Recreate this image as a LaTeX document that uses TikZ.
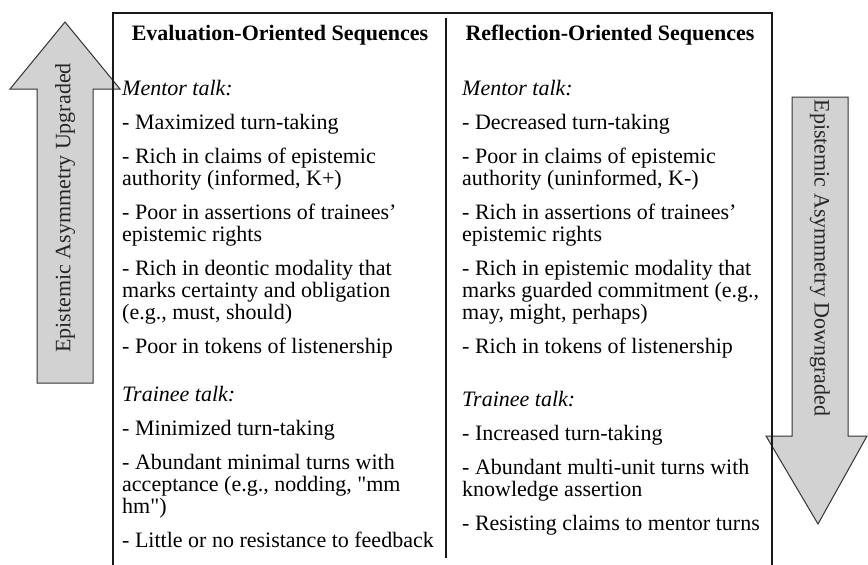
\documentclass[tikz,border=0pt]{standalone}
\usepackage{fontspec}
\setmainfont{Liberation Serif}
\newcommand\straightq{\XeTeXglyph\XeTeXcharglyph"22\relax}
\begin{document}
\begin{tikzpicture}[x=1pt,y=-1pt,
  txt/.style={anchor=base west,inner sep=0pt,font=\fontsize{22}{24}\selectfont},
  ital/.style={txt,font=\fontsize{22}{24}\selectfont\itshape},
  hd/.style={anchor=base,inner sep=0pt,font=\fontsize{22}{24}\selectfont\bfseries},
  lbl/.style={inner sep=0pt,font=\fontsize{22}{24}\selectfont,text=black!85},
  frame/.style={line width=1.4pt,draw=black!90},
  bigarrow/.style={fill=gray!35,draw=black!80,line width=1pt,line join=miter}]
\useasboundingbox (0,0) rectangle (868,565);

% arrows
\draw[bigarrow] (37,383) -- (37,89) -- (10,89) -- (65,22) -- (120,89) -- (93,89) -- (93,383) -- cycle;
\node[lbl,rotate=90] (up) at (65,208) {Epistemic Asymmetry Upgraded};
\draw[bigarrow] (792,97) -- (848,97) -- (848,436) -- (867,436) -- (818,524) -- (766,436) -- (792,436) -- cycle;
\node[lbl,rotate=-90] (down) at (820,258) {Epistemic Asymmetry Downgraded};

% frame
\coordinate (tl) at (113,13);
\coordinate (tr) at (772,13);
\coordinate (bl) at (113,565);
\coordinate (br) at (772,565);
\coordinate (mt) at (446,18);
\coordinate (mb) at (446,558);
\draw[frame] (bl) -- (tl) -- (tr) -- (br);
\draw[frame] (mt) -- (mb);

% headers
\node[hd] (h1) at (280,40) {Evaluation-Oriented Sequences};
\node[hd] (h2) at (610,40) {Reflection-Oriented Sequences};

% left column
\node[ital] (l1) at (122,95) {Mentor talk:};
\node[txt] (l2) at (122,129) {- Maximized turn-taking};
\node[txt] (l3) at (122,163) {- Rich in claims of epistemic};
\node[txt] (l4) at (122,185) {authority (informed, K+)};
\node[txt] (l5) at (122,219) {- Poor in assertions of trainees’};
\node[txt] (l6) at (122,241) {epistemic rights};
\node[txt] (l7) at (122,275) {- Rich in deontic modality that};
\node[txt] (l8) at (122,297) {marks certainty and obligation};
\node[txt] (l9) at (122,319) {(e.g., must, should)};
\node[txt] (l10) at (122,353) {- Poor in tokens of listenership};
\node[ital] (l11) at (122,401) {Trainee talk:};
\node[txt] (l12) at (122,435) {- Minimized turn-taking};
\node[txt] (l13) at (122,469) {- Abundant minimal turns with};
\node[txt] (l14) at (122,491) {acceptance (e.g., nodding, \straightq mm};
\node[txt] (l15) at (122,513) {hm\straightq)};
\node[txt] (l16) at (122,547) {- Little or no resistance to feedback};

% right column
\node[ital] (r1) at (462,95) {Mentor talk:};
\node[txt] (r2) at (462,129) {- Decreased turn-taking};
\node[txt] (r3) at (462,163) {- Poor in claims of epistemic};
\node[txt] (r4) at (462,185) {authority (uninformed, K-)};
\node[txt] (r5) at (462,219) {- Rich in assertions of trainees’};
\node[txt] (r6) at (462,241) {epistemic rights};
\node[txt] (r7) at (462,275) {- Rich in epistemic modality that};
\node[txt] (r8) at (462,297) {marks guarded commitment (e.g.,};
\node[txt] (r9) at (462,319) {may, might, perhaps)};
\node[txt] (r10) at (462,353) {- Rich in tokens of listenership};
\node[ital] (r11) at (462,406) {Trainee talk:};
\node[txt] (r12) at (462,440) {- Increased turn-taking};
\node[txt] (r13) at (462,474) {- Abundant multi-unit turns with};
\node[txt] (r14) at (462,496) {knowledge assertion};
\node[txt] (r15) at (462,530) {- Resisting claims to mentor turns};
\end{tikzpicture}
\end{document}
